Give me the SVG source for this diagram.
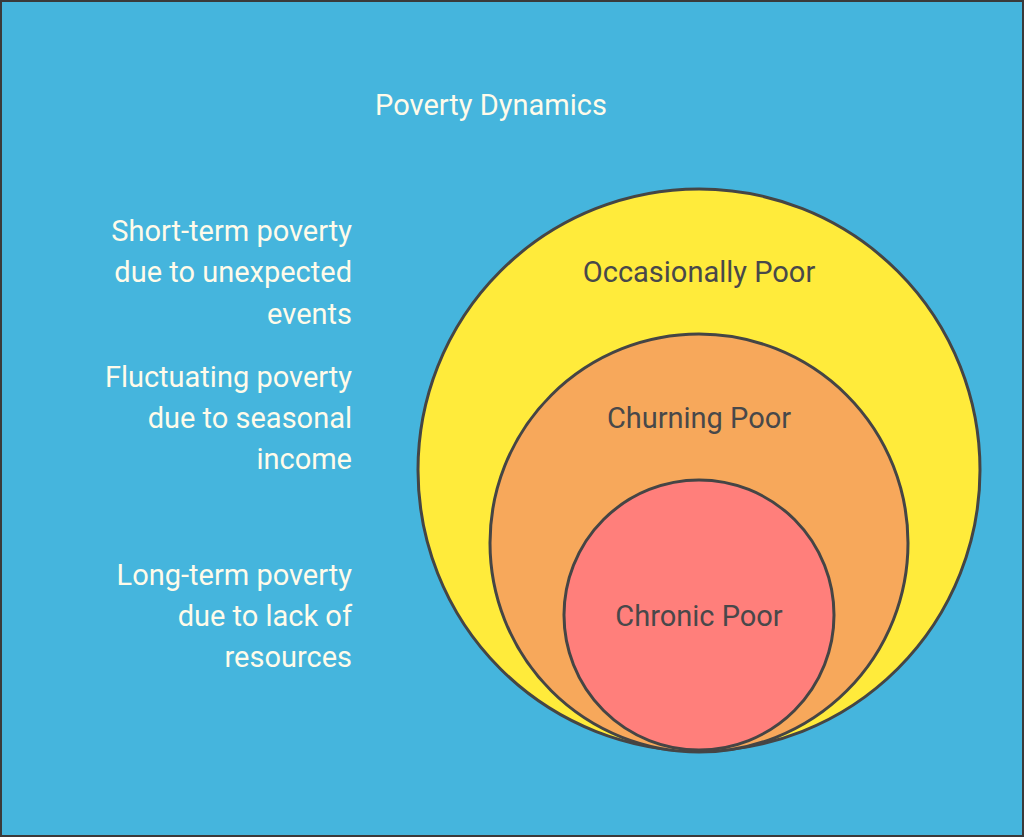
<svg xmlns="http://www.w3.org/2000/svg" width="1024" height="837" viewBox="0 0 1024 837">
<style>
.t{font-family:Roboto,"Liberation Sans",sans-serif;font-size:29px;fill:#FFFBEA}
.l{text-anchor:end}
.c{font-family:Roboto,"Liberation Sans",sans-serif;font-size:29px;fill:#48484A;text-anchor:middle}
circle{stroke:#454545;stroke-width:3}
</style>
<rect x="1" y="1" width="1022" height="835" fill="#45B5DD" stroke="#3a3a3a" stroke-width="2"/>
<text class="t" x="491" y="115" text-anchor="middle">Poverty Dynamics</text>
<g id="labels">
<text class="t l" x="352" y="241">Short-term poverty</text>
<text class="t l" x="352" y="282">due to unexpected</text>
<text class="t l" x="352" y="324">events</text>
<text class="t l" x="352" y="387">Fluctuating poverty</text>
<text class="t l" x="352" y="428">due to seasonal</text>
<text class="t l" x="352" y="469">income</text>
<text class="t l" x="352" y="585">Long-term poverty</text>
<text class="t l" x="352" y="626">due to lack of</text>
<text class="t l" x="352" y="667">resources</text>
</g>
<g id="occasional"><circle cx="699" cy="470" r="281" fill="#FFEB3B"/><text class="c" x="699" y="282">Occasionally Poor</text></g>
<g id="churning"><circle cx="699" cy="543" r="209" fill="#F7A85B"/><text class="c" x="699" y="428">Churning Poor</text></g>
<g id="chronic"><circle cx="699" cy="615" r="135" fill="#FF7F7B"/><text class="c" x="699" y="626">Chronic Poor</text></g>
<g id="connectors"/>
</svg>
